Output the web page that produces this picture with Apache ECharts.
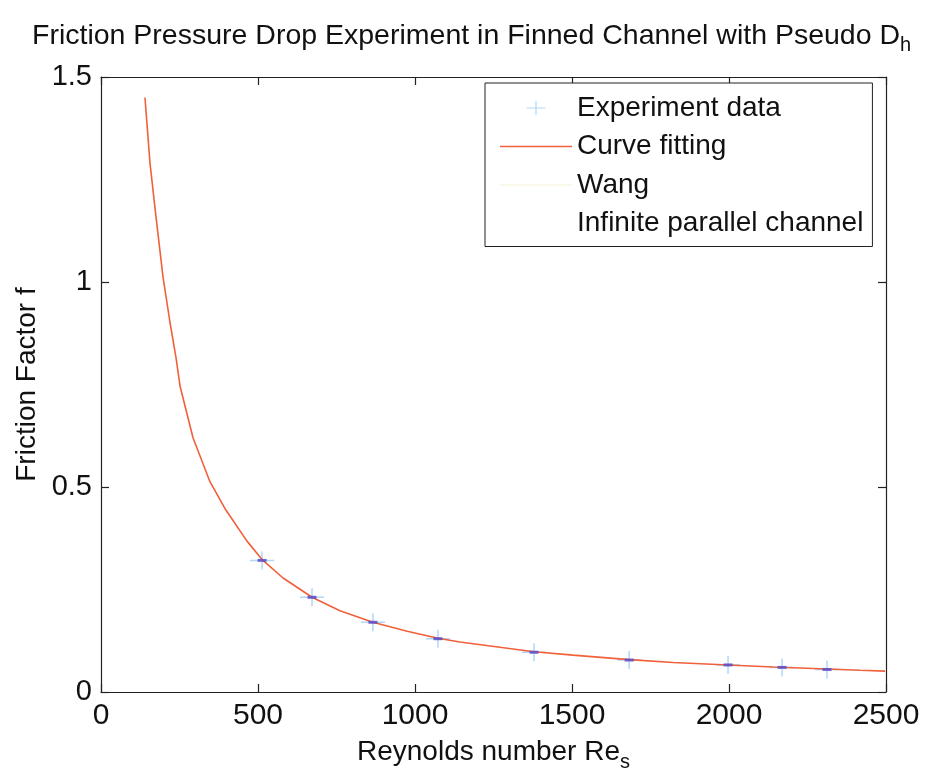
<!DOCTYPE html>
<html>
<head>
<meta charset="utf-8">
<script src="https://cdn.jsdelivr.net/npm/echarts@6/dist/echarts.min.js"></script>
<style>html,body{margin:0;padding:0;background:#fff}#c{width:927px;height:777px}</style>
</head>
<body>
<div id="c"></div>
<script>
// ---- data ----
const reCurve = [140,146,156,175,191,197,220,239,252,293,347,395,465,513,580,672,761,866,975,1073,1143,1379,1503,1682,1822,1997,2140,2312,2417,2497];
const fCurve  = [1.450,1.390,1.290,1.160,1.055,1.015,0.900,0.815,0.745,0.620,0.513,0.447,0.368,0.323,0.278,0.231,0.198,0.170,0.148,0.131,0.122,0.098,0.090,0.079,0.072,0.066,0.061,0.056,0.053,0.051];
const reExp = [513,672,866,1073,1379,1682,1997,2169,2312];
const fExp  = [0.321,0.231,0.170,0.130,0.097,0.078,0.066,0.060,0.055];
const xTicks = [0,500,1000,1500,2000,2500];
const yTicks = [0,0.5,1,1.5];
const seriesNames = ['Experiment data','Curve fitting','Wang','Infinite parallel channel'];

const expData = reExp.map((x,i)=>[x,fExp[i]]);
const curveData = reCurve.map((x,i)=>[x,fCurve[i]]);
const FONT = 'Liberation Sans, Arial, sans-serif';
const crossPath = 'path://M0,8.25H24V9.75H0Z M11.25,0H12.75V18H11.25Z';

const chart = echarts.init(document.getElementById('c'), null, {renderer:'canvas'});
const axisCommon = {
  axisLine:{show:true,onZero:false,lineStyle:{color:'#222',width:1.2}},
  axisTick:{show:true,inside:true,length:8,lineStyle:{color:'#222',width:1.2}},
  splitLine:{show:false}
};
chart.setOption({
  animation:false,
  backgroundColor:'#fff',
  title:{
    text:'{a|Friction Pressure Drop Experiment in Finned Channel with Pseudo D}{b|h}',
    left:27, top:12,
    textStyle:{fontWeight:'normal',rich:{
      a:{fontFamily:FONT,fontSize:28.5,fontWeight:'normal',color:'#111'},
      b:{fontFamily:FONT,fontSize:20,fontWeight:'normal',color:'#111',padding:[18,0,0,0]}
    }}
  },
  grid:{left:101,top:77,right:41,bottom:84,containLabel:false},
  legend:{
    orient:'vertical', left:485, top:83,
    padding:[11,9,9,15],
    borderColor:'#222', borderWidth:1, backgroundColor:'#fff',
    itemWidth:72, itemHeight:14, itemGap:10.5,
    textStyle:{fontFamily:FONT,fontSize:28,color:'#111'},
    data:[
      {name:seriesNames[0],icon:crossPath,itemStyle:{color:'#9ccdf2'}},
      {name:seriesNames[1],icon:'path://M0,4.2H72V5.8H0Z',itemStyle:{color:'#f0603a'}},
      {name:seriesNames[2],icon:'path://M0,4.5H72V5.5H0Z',itemStyle:{color:'#f6f1d8'}},
      {name:seriesNames[3],icon:'path://M0,4.5H72V5.5H0Z',itemStyle:{color:'#ffffff'}}
    ]
  },
  xAxis:[
    Object.assign({type:'value',min:0,max:2500,interval:500,position:'bottom',
      name:'Reynolds number Re{s|s}', nameLocation:'middle', nameGap:40,
      nameTextStyle:{fontFamily:FONT,fontSize:28,color:'#111',rich:{s:{fontFamily:FONT,fontSize:20,color:'#111',padding:[20,0,0,0]}}},
      axisLabel:{fontFamily:FONT,fontSize:30,color:'#111',margin:9,
        formatter:v=>xTicks.includes(v)?String(v):''}
    },axisCommon),
    Object.assign({type:'value',min:0,max:2500,interval:500,position:'top',axisLabel:{show:false}},axisCommon)
  ],
  yAxis:[
    Object.assign({type:'value',min:0,max:1.5,interval:0.5,position:'left',
      name:'Friction Factor f', nameLocation:'middle', nameGap:59, nameRotate:90,
      nameTextStyle:{fontFamily:FONT,fontSize:28,color:'#111'},
      axisLabel:{fontFamily:FONT,fontSize:29,color:'#111',margin:9,
        formatter:v=>yTicks.includes(v)?String(v):''}
    },axisCommon),
    Object.assign({type:'value',min:0,max:1.5,interval:0.5,position:'right',axisLabel:{show:false}},axisCommon)
  ],
  series:[
    {name:seriesNames[0],type:'scatter',data:expData,symbol:crossPath,symbolSize:[24,18],
      itemStyle:{color:'#9ccdf2'},z:3},
    {name:'center',type:'scatter',data:expData,symbol:'rect',symbolSize:[9,3],
      itemStyle:{color:'#5a4fc8',opacity:0.85},z:5},
    {name:seriesNames[1],type:'line',data:curveData,showSymbol:false,smooth:false,
      lineStyle:{color:'#f0603a',width:1.6},itemStyle:{color:'#f0603a'},z:4},
    {name:seriesNames[2],type:'line',data:[],showSymbol:false,lineStyle:{color:'#f6f1d8'}},
    {name:seriesNames[3],type:'line',data:[],showSymbol:false,lineStyle:{color:'#ffffff'}}
  ]
});
</script>
</body>
</html>
